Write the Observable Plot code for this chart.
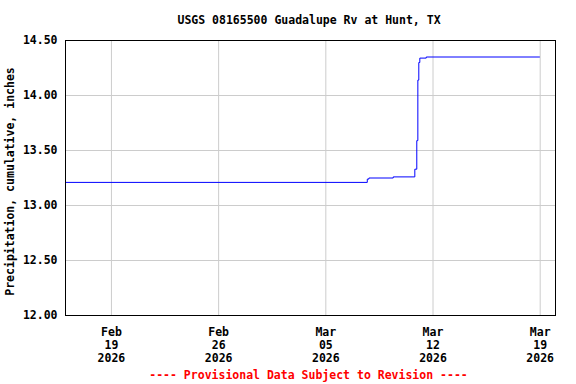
<!DOCTYPE html>
<html>
<head>
<meta charset="utf-8">
<script src="https://cdn.jsdelivr.net/npm/d3@7"></script>
<script src="https://cdn.jsdelivr.net/npm/@observablehq/plot@0.6"></script>
<style>
  html, body { margin: 0; padding: 0; background: white; }
</style>
</head>
<body>
<div id="chart"></div>
<script>
const title = "USGS 08165500 Guadalupe Rv at Hunt, TX";
const yLabel = "Precipitation, cumulative, inches";
const footer = "---- Provisional Data Subject to Revision ----";

const times = [
  "2026-02-16T01:00Z", "2026-03-07T17:00Z", "2026-03-07T19:30Z", "2026-03-09T09:40Z",
  "2026-03-10T19:30Z", "2026-03-10T22:35Z", "2026-03-11T00:15Z", "2026-03-11T01:45Z",
  "2026-03-11T03:20Z", "2026-03-11T13:25Z", "2026-03-18T23:00Z"
];
const values = [13.21, 13.24, 13.25, 13.26, 13.33, 13.59, 14.14, 14.30, 14.34, 14.35, 14.35];

const xTickDates = ["2026-02-19", "2026-02-26", "2026-03-05", "2026-03-12", "2026-03-19"];
const yTicks = [12.0, 12.5, 13.0, 13.5, 14.0, 14.5];
const xDomain = ["2026-02-16T00:00Z", "2026-03-20T00:00Z"];

const data = times.map((t, i) => ({date: new Date(t), value: values[i]}));
const xTicks = xTickDates.map(d => new Date(d + "T00:00Z"));

const chart = Plot.plot({
  width: 576,
  height: 384,
  marginTop: 40,
  marginRight: 21,
  marginBottom: 69,
  marginLeft: 65,
  style: {
    fontFamily: "'DejaVu Sans Mono', monospace",
    fontSize: "11.5px",
    fontWeight: "bold",
    background: "white",
    color: "black"
  },
  x: {type: "utc", domain: xDomain.map(d => new Date(d))},
  y: {domain: [12, 14.5]},
  marks: [
    Plot.gridX(xTicks, {stroke: "#cccccc", strokeOpacity: 1}),
    Plot.gridY(yTicks, {stroke: "#cccccc", strokeOpacity: 1}),
    Plot.line(data, {x: "date", y: "value", curve: "step-after", stroke: "#0000ff", strokeWidth: 1}),
    Plot.axisX(xTicks, {
      tickSize: 0, tickPadding: 11,
      tickFormat: d3.utcFormat("%b\n%d\n%Y"),
      lineHeight: 1.13, label: null
    }),
    Plot.axisY(yTicks, {
      tickSize: 0, tickPadding: 8,
      tickFormat: d3.format(".2f"), label: null
    }),
    Plot.text([yLabel], {frameAnchor: "left", textAnchor: "middle", rotate: -90, lineAnchor: "bottom", dx: -51.5, dy: 3.5}),
    Plot.text([title], {frameAnchor: "top", lineAnchor: "bottom", dy: -17, dx: -1.5}),
    Plot.text([footer], {frameAnchor: "bottom", lineAnchor: "bottom", dy: 63, dx: -2, fill: "red"}),
    Plot.frame({stroke: "black"})
  ]
});
document.getElementById("chart").append(chart);
</script>
</body>
</html>
